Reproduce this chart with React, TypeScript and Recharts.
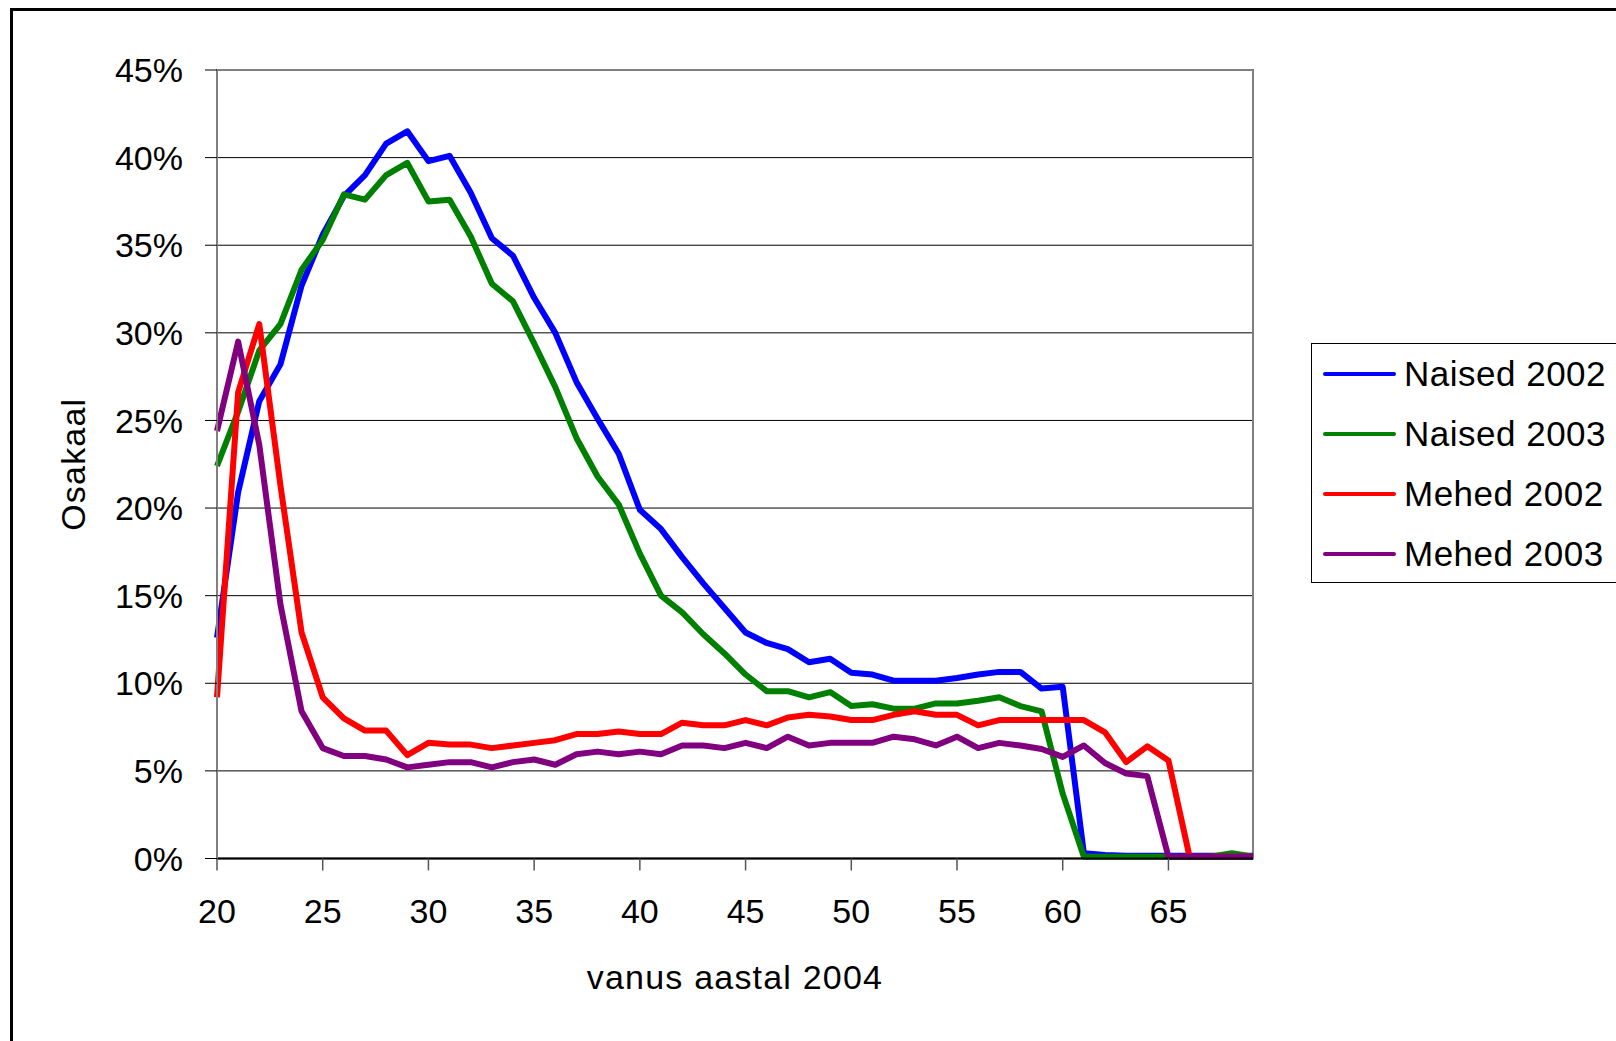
import { LineChart, Line, XAxis, YAxis, CartesianGrid, Legend, ReferenceArea } from 'recharts';

const ages = [
  '20', '21', '22', '23', '24', '25', '26', '27', '28', '29',
  '30', '31', '32', '33', '34', '35', '36', '37', '38', '39',
  '40', '41', '42', '43', '44', '45', '46', '47', '48', '49',
  '50', '51', '52', '53', '54', '55', '56', '57', '58', '59',
  '60', '61', '62', '63', '64', '65', '66', '67', '68', '69',
];

const naised2002 = [
  12.6, 20.9, 26.1, 28.2, 32.7, 35.6, 37.8, 39.0, 40.8, 41.5,
  39.8, 40.1, 38.0, 35.4, 34.4, 32.0, 30.0, 27.2, 25.1, 23.1,
  19.9, 18.8, 17.2, 15.7, 14.3, 12.9, 12.3, 11.95, 11.2, 11.4,
  10.6, 10.5, 10.15, 10.15, 10.15, 10.3, 10.5, 10.65, 10.65, 9.7,
  9.8, 0.3, 0.2, 0.15, 0.15, 0.15, 0.15, 0.15, 0.15, 0.15,
];

const naised2003 = [
  22.4, 25.5, 29.0, 30.5, 33.6, 35.3, 37.9, 37.6, 39.0, 39.7,
  37.5, 37.6, 35.5, 32.8, 31.8, 29.4, 26.9, 24.0, 21.8, 20.2,
  17.4, 15.0, 14.05, 12.8, 11.7, 10.5, 9.55, 9.55, 9.2, 9.5,
  8.7, 8.8, 8.55, 8.55, 8.85, 8.85, 9.0, 9.2, 8.7, 8.4,
  3.7, 0.1, 0.1, 0.1, 0.1, 0.1, 0.1, 0.1, 0.3, 0.1,
];

const mehed2002 = [
  9.2, 26.6, 30.5, 21.3, 12.9, 9.2, 8.0, 7.3, 7.3, 5.9,
  6.6, 6.5, 6.5, 6.3, 6.45, 6.6, 6.75, 7.1, 7.1, 7.25,
  7.1, 7.1, 7.75, 7.6, 7.6, 7.9, 7.6, 8.05, 8.2, 8.1,
  7.9, 7.9, 8.2, 8.4, 8.2, 8.2, 7.6, 7.9, 7.9, 7.9,
  7.9, 7.9, 7.2, 5.5, 6.4, 5.6, 0.1, 0.1, 0.1, 0.1,
];

const mehed2003 = [
  24.4, 29.5, 23.6, 14.5, 8.4, 6.3, 5.85, 5.85, 5.65, 5.2,
  5.35, 5.5, 5.5, 5.2, 5.5, 5.65, 5.35, 5.95, 6.1, 5.95,
  6.1, 5.95, 6.45, 6.45, 6.3, 6.6, 6.3, 6.95, 6.45, 6.6,
  6.6, 6.6, 6.95, 6.8, 6.45, 6.95, 6.3, 6.6, 6.45, 6.25,
  5.8, 6.45, 5.45, 4.85, 4.7, 0.1, 0.1, 0.1, 0.1, 0.1,
];

const yTicks = [0, 5, 10, 15, 20, 25, 30, 35, 40, 45];

const series = [
  { key: 'naised2002', name: 'Naised 2002', color: '#0000FF' },
  { key: 'naised2003', name: 'Naised 2003', color: '#008000' },
  { key: 'mehed2002', name: 'Mehed 2002', color: '#FF0000' },
  { key: 'mehed2003', name: 'Mehed 2003', color: '#800080' },
];

const data = ages.map((age, i) => ({
  age,
  naised2002: naised2002[i],
  naised2003: naised2003[i],
  mehed2002: mehed2002[i],
  mehed2003: mehed2003[i],
}));

const FONT = '"Liberation Sans", Arial, sans-serif';

function renderLegend() {
  return (
    <div
      style={{
        boxSizing: 'border-box',
        width: 340,
        height: 240,
        border: '1px solid #000',
        background: '#fff',
        paddingTop: 0,
        fontFamily: FONT,
      }}
    >
      {series.map((s) => (
        <div key={s.key} style={{ display: 'flex', alignItems: 'center', height: 60 }}>
          <div style={{ marginLeft: 11, width: 73, height: 4, borderRadius: 2, background: s.color }} />
          <span style={{ marginLeft: 8, fontSize: 35, letterSpacing: 0.5, color: '#000', whiteSpace: 'nowrap' }}>
            {s.name}
          </span>
        </div>
      ))}
    </div>
  );
}

function YTitle(props: any) {
  const vb = props.viewBox || { x: 12, y: 70, width: 205, height: 788.5 };
  const x = vb.x + 72.5;
  const y = vb.y + vb.height / 2;
  return (
    <text
      x={x}
      y={y}
      transform={`rotate(-90, ${x}, ${y})`}
      textAnchor="middle"
      fontSize={34}
      letterSpacing={1.2}
      fill="#000"
    >
      Osakaal
    </text>
  );
}

function XTitle(props: any) {
  const vb = props.viewBox || { x: 217, y: 858.5, width: 1036, height: 120 };
  return (
    <text
      x={vb.x + vb.width / 2}
      y={vb.y + 130.5}
      textAnchor="middle"
      fontSize={34}
      letterSpacing={1.2}
      fill="#000"
    >
      vanus aastal 2004
    </text>
  );
}

export default function App() {
  return (
    <div
      style={{
        position: 'absolute',
        left: 0,
        top: 0,
        width: 1616,
        height: 1041,
        overflow: 'hidden',
        background: '#fff',
        fontFamily: FONT,
      }}
    >
      <div
        style={{
          position: 'absolute',
          left: 10,
          top: 8,
          width: 1700,
          height: 1100,
          border: '3px solid #000',
        }}
      />
      <div style={{ position: 'absolute', left: 0, top: 0 }}>
        <LineChart
          width={1616}
          height={1041}
          data={data}
          margin={{ top: 70, right: 363, bottom: 62.5, left: 12 }}
        >
          <CartesianGrid vertical={false} stroke="#000" strokeWidth={1} />
          <ReferenceArea
            x1="20"
            x2="69"
            y1={0}
            y2={45}
            fill="none"
            fillOpacity={0}
            stroke="#808080"
            strokeWidth={2}
          />
          <XAxis
            dataKey="age"
            interval={4}
            height={120}
            tickSize={12}
            tickMargin={28}
            tick={{ fontSize: 34, fill: '#000' }}
            axisLine={{ stroke: '#000', strokeWidth: 2 }}
            tickLine={{ stroke: '#555', strokeWidth: 1.5 }}
            label={<XTitle />}
          />
          <YAxis
            type="number"
            domain={[0, 45]}
            ticks={yTicks}
            width={205}
            tickSize={12}
            tickMargin={22}
            tickFormatter={(v) => `${v}%`}
            tick={{ fontSize: 34, fill: '#000' }}
            axisLine={{ stroke: '#808080', strokeWidth: 2 }}
            tickLine={{ stroke: '#000', strokeWidth: 1 }}
            label={<YTitle />}
          />
          <Legend
            layout="vertical"
            align="center"
            verticalAlign="middle"
            wrapperStyle={{ left: 1311, top: 343, right: 'auto', bottom: 'auto', width: 340 }}
            content={renderLegend}
          />
          {series.map((s) => (
            <Line
              key={s.key}
              type="linear"
              dataKey={s.key}
              name={s.name}
              stroke={s.color}
              strokeWidth={6}
              strokeLinejoin="round"
              dot={false}
              activeDot={false}
              isAnimationActive={false}
            />
          ))}
        </LineChart>
      </div>
    </div>
  );
}
